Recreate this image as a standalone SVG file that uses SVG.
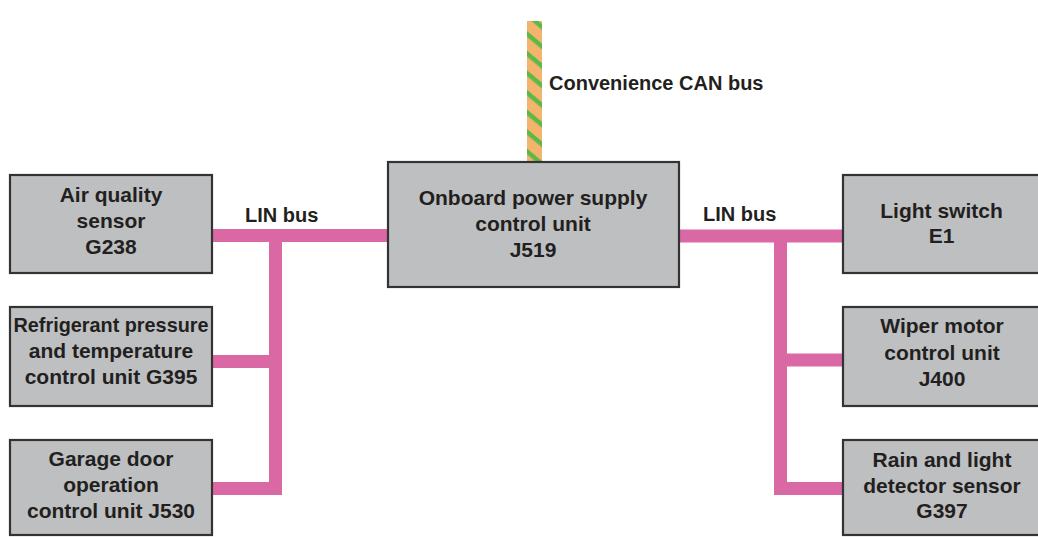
<svg xmlns="http://www.w3.org/2000/svg" width="1038" height="537" viewBox="0 0 1038 537">
<defs>
<style>
.box{fill:#bdbfc1;stroke:#333333;stroke-width:2.2}
.t{font-family:"Liberation Sans",Arial,sans-serif;font-weight:bold;font-size:21px;fill:#231f20;text-anchor:middle}
.lbl{font-family:"Liberation Sans",Arial,sans-serif;font-weight:bold;font-size:20px;fill:#231f20}
.lin{fill:none;stroke:#d968a4;stroke-width:13;stroke-linejoin:miter}
</style>
<pattern id="can" patternUnits="userSpaceOnUse" width="15" height="15" patternTransform="rotate(40)">
<rect width="15" height="15" fill="#f4b46e"/>
<rect y="0" width="15" height="4.5" fill="#5bb947"/>
</pattern>
</defs>
<rect width="1038" height="537" fill="#ffffff"/>
<g id="connectors">
<rect x="527" y="21" width="15" height="142" fill="url(#can)"/>
<path class="lin" d="M212 235.5H389"/>
<path class="lin" d="M275.5 235.5V488.5H212M275.5 361.5H212"/>
<path class="lin" d="M678 236H844"/>
<path class="lin" d="M780.5 236V488.5H844M780.5 360H844"/>
<text class="lbl" x="549" y="90">Convenience CAN bus</text>
<text class="lbl" x="245" y="222">LIN bus</text>
<text class="lbl" x="703" y="221">LIN bus</text>
</g>
<g id="j519">
<rect class="box" x="388" y="162" width="291" height="125"/>
<text class="t" x="533" y="205">Onboard power supply</text>
<text class="t" x="533" y="230.5">control unit</text>
<text class="t" x="533" y="256.5">J519</text>
</g>
<g id="g238">
<rect class="box" x="10" y="175" width="202" height="98"/>
<text class="t" x="111" y="202">Air quality</text>
<text class="t" x="111" y="228">sensor</text>
<text class="t" x="111" y="253.5">G238</text>
</g>
<g id="g395">
<rect class="box" x="10" y="307" width="202" height="99"/>
<text class="t" x="111" y="332" textLength="195" lengthAdjust="spacingAndGlyphs">Refrigerant pressure</text>
<text class="t" x="111" y="358">and temperature</text>
<text class="t" x="111" y="383.5">control unit G395</text>
</g>
<g id="j530">
<rect class="box" x="10" y="440" width="202" height="95"/>
<text class="t" x="111" y="466">Garage door</text>
<text class="t" x="111" y="492">operation</text>
<text class="t" x="111" y="518">control unit J530</text>
</g>
<g id="e1">
<rect class="box" x="843" y="175" width="200" height="98"/>
<text class="t" x="941.5" y="218">Light switch</text>
<text class="t" x="941.5" y="243">E1</text>
</g>
<g id="j400">
<rect class="box" x="843" y="307" width="200" height="99"/>
<text class="t" x="942" y="333">Wiper motor</text>
<text class="t" x="942" y="360">control unit</text>
<text class="t" x="942" y="386">J400</text>
</g>
<g id="g397">
<rect class="box" x="843" y="440" width="200" height="95"/>
<text class="t" x="942" y="467">Rain and light</text>
<text class="t" x="942" y="493">detector sensor</text>
<text class="t" x="942" y="518">G397</text>
</g>
</svg>
